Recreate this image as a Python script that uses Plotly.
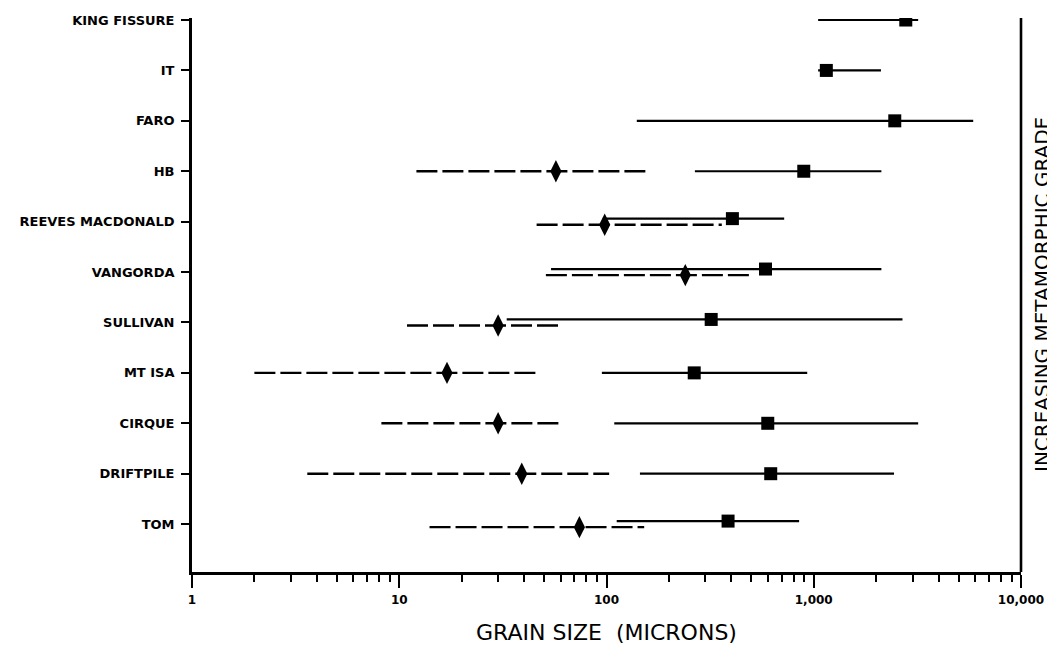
import plotly.graph_objects as go

# Categories, bottom to top
categories = ["TOM", "DRIFTPILE", "CIRQUE", "MT ISA", "SULLIVAN", "VANGORDA",
              "REEVES MACDONALD", "HB", "FARO", "IT", "KING FISSURE"]

# Fine-grained population (diamonds, dashed ranges)
fine_lo = [14, 3.6, 8.2, 2.0, 10.9, 51, 46, 12.1, None, None, None]
fine_mid = [74, 39, 30, 17, 30, 240, 98, 57, None, None, None]
fine_hi = [152, 103, 61, 46, 61, 500, 360, 154, None, None, None]

# Coarse-grained population (squares, solid ranges)
coarse_lo = [112, 145, 109, 95, 33, 54, 96, 267, 140, 1050, 1050]
coarse_mid = [386, 620, 600, 265, 320, 585, 405, 895, 2460, 1150, 2780]
coarse_hi = [850, 2440, 3190, 930, 2680, 2120, 720, 2120, 5880, 2110, 3190]

x_tickvals = [1, 10, 100, 1000, 10000]
x_ticktext = ["1", "10", "100", "1,000", "10,000"]

OFF = 0.06  # vertical separation when the two ranges overlap

coarse_y, fine_y = [], []
for i in range(len(categories)):
    overlap = fine_hi[i] is not None and fine_hi[i] > coarse_lo[i]
    coarse_y.append(i + OFF if overlap else i)
    fine_y.append(i - OFF if overlap else i)

# Build segment traces
cx, cy = [], []
for i in range(len(categories)):
    cx += [coarse_lo[i], coarse_hi[i], None]
    cy += [coarse_y[i], coarse_y[i], None]
fx, fy = [], []
for i in range(len(categories)):
    if fine_lo[i] is None:
        continue
    fx += [fine_lo[i], fine_hi[i], None]
    fy += [fine_y[i], fine_y[i], None]

fig = go.Figure()
fig.add_trace(go.Scatter(x=fx, y=fy, mode="lines",
                         line=dict(color="black", width=2.4, dash="21px,5px"),
                         showlegend=False, hoverinfo="skip"))
fig.add_trace(go.Scatter(x=cx, y=cy, mode="lines",
                         line=dict(color="black", width=2.2),
                         showlegend=False, hoverinfo="skip"))
fm_x = [v for v in fine_mid if v is not None]
fm_y = [fine_y[i] for i, v in enumerate(fine_mid) if v is not None]
fig.add_trace(go.Scatter(x=fm_x, y=fm_y, mode="markers",
                         marker=dict(symbol="diamond-tall", size=16, color="black"),
                         showlegend=False))
fig.add_trace(go.Scatter(x=coarse_mid, y=coarse_y, mode="markers",
                         marker=dict(symbol="square", size=13, color="black"),
                         showlegend=False))

minor_vals = [m * 10 ** k for k in range(4) for m in range(2, 10)]

fig.update_layout(
    width=1047, height=637,
    margin=dict(l=184, r=34, t=10, b=73, autoexpand=False),
    paper_bgcolor="white", plot_bgcolor="white",
    font=dict(family="DejaVu Sans", color="black"),
    xaxis=dict(
        type="log", range=[0, 4], automargin=False,
        tickvals=x_tickvals, ticktext=x_ticktext,
        ticks="outside", ticklen=13, tickwidth=2, tickcolor="black",
        minor=dict(tickvals=minor_vals, ticks="outside", ticklen=7,
                   tickwidth=1.5, tickcolor="black", showgrid=False),
        showline=True, linewidth=2.6, linecolor="black",
        showgrid=False, zeroline=False,
        tickfont=dict(size=12, weight="bold"),
        ticklabelstandoff=2,
        title=dict(text="GRAIN SIZE  (MICRONS)", font=dict(size=22), standoff=22),
    ),
    yaxis=dict(
        range=[-0.95, 10.04], automargin=False,
        tickvals=list(range(len(categories))), ticktext=categories,
        ticks="outside", ticklen=8, tickwidth=1.5, tickcolor="black",
        showline=True, linewidth=2.8, linecolor="black",
        showgrid=False, zeroline=False,
        tickfont=dict(size=13, weight="bold"),
        ticklabelstandoff=4,
    ),
    shapes=[dict(type="line", xref="paper", yref="paper", x0=1, x1=1, y0=0, y1=1,
                 line=dict(color="black", width=2.6))],
    annotations=[dict(text="INCREASING METAMORPHIC GRADE", xref="paper", yref="paper",
                      x=1, y=0.5, xanchor="left", yanchor="middle", textangle=-90,
                      xshift=7, showarrow=False, font=dict(size=20, color="black"))],
)

fig.write_html("out.html")
